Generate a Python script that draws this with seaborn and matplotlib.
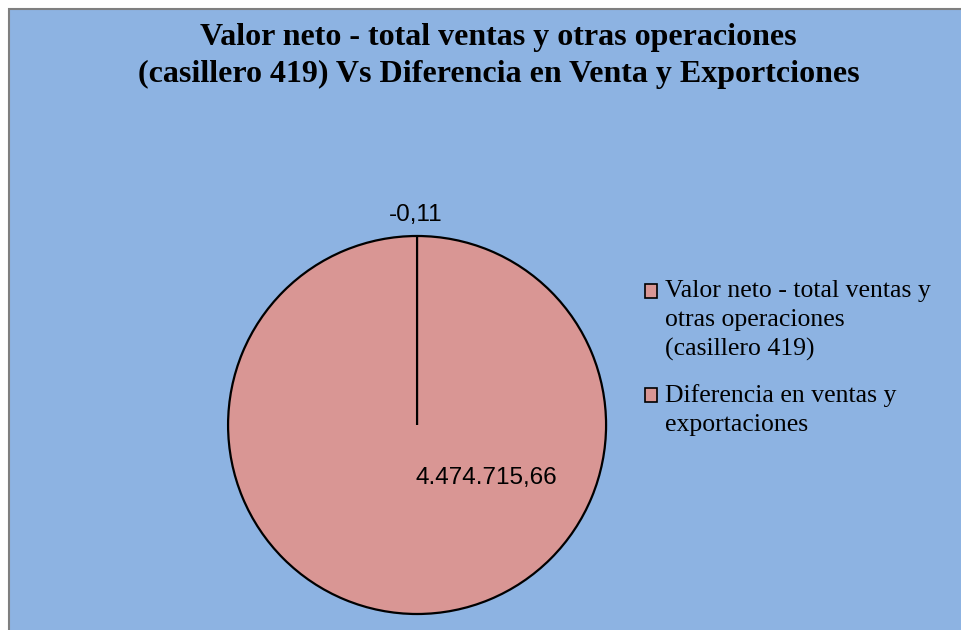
import matplotlib
matplotlib.use("Agg")
import matplotlib.pyplot as plt
from matplotlib.patches import Rectangle, Patch
from matplotlib.font_manager import FontProperties
import seaborn as sns

sns.set_theme(style="white")
plt.rcParams["text.color"] = "black"

categories = ["Valor neto - total ventas y\notras operaciones\n(casillero 419)",
              "Diferencia en ventas y\nexportaciones"]
values = [4474715.66, -0.11]
value_labels = ["4.474.715,66", "-0,11"]
title = "Valor neto - total ventas y otras operaciones\n(casillero 419) Vs Diferencia en Venta y Exportciones"

BG = "#8DB3E2"
PIE = "#D99694"
DPI = 100

fig = plt.figure(figsize=(9.61, 6.30), dpi=DPI)
fig.patch.set_facecolor("white")
fig.add_artist(Rectangle((8.5 / 961, -0.01), 1.0, (630 - 9.5) / 630 + 0.01,
                         transform=fig.transFigure, facecolor=BG,
                         edgecolor="#7F7F7F", linewidth=1.5, zorder=0))

ax = fig.add_axes([0.2373, 0.0254, 0.3934, 0.6])
ax.set_facecolor("none")
wedges, _ = ax.pie([abs(v) for v in values], colors=[PIE, PIE], startangle=90,
                   counterclock=False,
                   wedgeprops=dict(edgecolor="black", linewidth=1.6))
ax.set_xlim(-1, 1)
ax.set_ylim(-1, 1)
ax.set_aspect("equal")
ax.axis("off")

ax.text(0.365, -0.28, value_labels[0], ha="center", va="center",
        fontsize=17.5, family="Liberation Sans", color="black")
ax.text(-0.005, 1.11, value_labels[1], ha="center", va="center",
        fontsize=17.5, family="Liberation Sans", color="black")

renderer = fig.canvas.get_renderer()

# title: baselines at 45 px and 82 px from the top
tprop = FontProperties(family="Liberation Serif", weight="bold", size=23)
_, tlp_h, tlp_d = renderer.get_text_width_height_descent("lp", tprop, ismath=False)
TL = (37.0 - tlp_d) / (tlp_h - tlp_d)
fig.text(0.519, 1 - 82 / 630, title, ha="center", va="baseline",
         fontproperties=tprop, linespacing=TL, color="black")

# legend metrics (pixels in the reference)
F = 18.5
step_px = 29.0
group_px = 45.0
prop = FontProperties(family="Liberation Serif", size=F)
_, lp_h, lp_d = renderer.get_text_width_height_descent("lp", prop, ismath=False)
L = (step_px - lp_d) / (lp_h - lp_d)
ls = (group_px - lp_h) * 72 / DPI / F

handles = [Patch(facecolor=PIE, edgecolor="black", linewidth=1.2) for _ in categories]
leg = fig.legend(handles, categories, loc="upper left",
                 bbox_to_anchor=(645 / 961, 1 - (297 - (lp_h - lp_d)) / 630),
                 frameon=False, prop=prop, labelcolor="black",
                 handlelength=0.47, handleheight=0.47, handletextpad=0.3,
                 labelspacing=ls, borderaxespad=0, borderpad=0)
for t in leg.get_texts():
    t.set_linespacing(L)
step_pt = step_px * 72 / DPI
for h, lab in zip(leg.legend_handles, categories):
    n = lab.count("\n") + 1
    h.set_y(h.get_y() + (n - 1) / 2 * step_pt)

fig.savefig("out.png", dpi=DPI)
